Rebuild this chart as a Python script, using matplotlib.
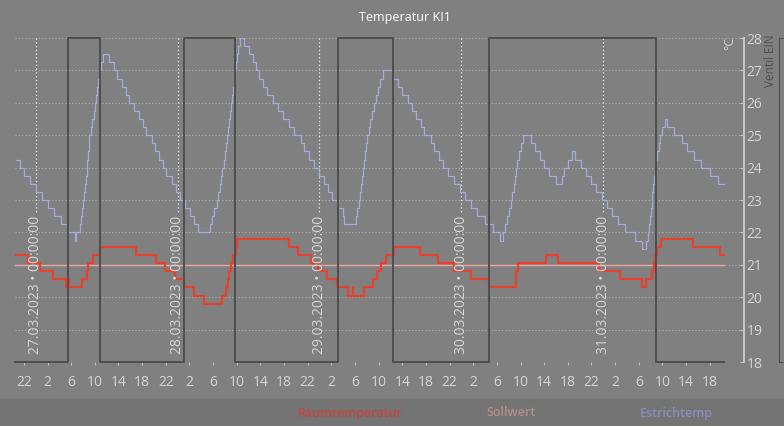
import numpy as np
import pandas as pd
import matplotlib
matplotlib.use('Agg')
import matplotlib.pyplot as plt
import matplotlib.dates as mdates
from matplotlib.ticker import FuncFormatter, FixedLocator
from matplotlib.patches import Rectangle

plt.rcParams['font.family'] = ['Open Sans', 'DejaVu Sans']

# hours relative to 27.03.2023 00:00
base = pd.Timestamp('2023-03-27 00:00')

estrich_h = [-3.4, -2.7, -2.0, -1.0, 0.1, 1.05, 2.1, 3.1, 4.3, 5.45, 6.6, 6.9,
             7.5, 7.7, 7.85, 8.0, 8.2, 8.35, 8.5, 8.6, 8.75, 8.85, 9.0, 9.1,
             9.35, 9.6, 9.85, 10.05, 10.2, 10.35, 10.5, 10.8, 11.1, 11.4,
             12.4, 13.2, 13.7, 14.6, 15.3, 15.75, 16.7, 17.45, 18.1, 18.7, 19.7, 20.2,
             20.8, 21.5, 22.1, 23.0, 23.8, 24.4, 25.3, 26.1, 26.85, 27.4,
             29.5, 29.9, 30.2, 30.6, 30.9, 31.1, 31.35, 31.55, 31.8, 32.0, 32.15, 32.3,
             32.5, 32.65, 32.8, 33.0, 33.2, 33.35, 33.5, 33.7, 33.85, 34.05, 34.3, 34.6,
             35.2, 36.0, 36.7, 37.3, 37.8, 38.4, 39.2, 40.1, 40.9, 41.8, 42.9, 43.75,
             44.8, 45.4, 46.3, 47.0, 47.9, 48.7, 49.5, 50.2, 51.1, 51.9, 52.2,
             54.1, 54.4, 54.65, 54.85, 55.0, 55.15, 55.3, 55.5, 55.7, 55.9, 56.1,
             56.35, 56.6, 56.9, 57.2, 57.5, 57.9, 58.3, 58.7,
             60.5, 61.2, 62.0, 62.9, 63.6, 64.3, 65.2, 65.7, 66.8, 67.4, 68.2, 68.9,
             69.8, 70.8, 71.8, 72.6, 73.6, 74.7, 76.0, 77.3, 78.5, 79.1,
             79.45, 79.75, 80.05, 80.35, 80.6, 80.85, 81.05, 81.2, 81.45, 81.75, 82.0, 82.35,
             83.8, 84.5, 85.3, 85.9, 86.8, 88.0, 89.0, 89.4, 90.0, 90.7, 91.2, 92.2,
             93.0, 94.0, 94.7, 95.8, 96.7, 97.4, 98.5, 99.7, 101.4, 102.5,
             103.3, 103.55, 103.75, 103.9, 104.05, 104.2, 104.3, 104.45, 104.6, 104.75,
             104.9, 105.1, 105.35, 105.6, 105.9, 106.5, 106.7,
             108.0, 109.3, 110.2, 111.3, 112.5, 114.1, 115.4, 116.4]
estrich_v = [24.25, 24.0, 23.75, 23.5, 23.25, 23.0, 22.75, 22.5, 22.25, 22.0, 21.75, 22.0,
             22.25, 22.5, 22.75, 23.0, 23.25, 23.5, 23.75, 24.0, 24.25, 24.5, 24.75, 25.0,
             25.25, 25.5, 25.75, 26.0, 26.25, 26.5, 26.75, 27.0, 27.25, 27.5,
             27.25, 27.0, 26.75, 26.5, 26.25, 26.0, 25.75, 25.5, 25.25, 25.0, 24.75, 24.5,
             24.25, 24.0, 23.75, 23.5, 23.25, 23.0, 22.75, 22.5, 22.25, 22.0,
             22.25, 22.5, 22.75, 23.0, 23.25, 23.5, 23.75, 24.0, 24.25, 24.5, 24.75, 25.0,
             25.25, 25.5, 25.75, 26.0, 26.25, 26.5, 26.75, 27.0, 27.25, 27.5, 27.75, 28.0,
             27.75, 27.5, 27.25, 27.0, 26.75, 26.5, 26.25, 26.0, 25.75, 25.5, 25.25, 25.0,
             24.75, 24.5, 24.25, 24.0, 23.75, 23.5, 23.25, 23.0, 22.75, 22.5, 22.25,
             22.5, 22.75, 23.0, 23.25, 23.5, 23.75, 24.0, 24.25, 24.5, 24.75, 25.0,
             25.25, 25.5, 25.75, 26.0, 26.25, 26.5, 26.75, 27.0,
             26.75, 26.5, 26.25, 26.0, 25.75, 25.5, 25.25, 25.0, 24.75, 24.5, 24.25, 24.0,
             23.75, 23.5, 23.25, 23.0, 22.75, 22.5, 22.25, 22.0, 21.75, 22.0,
             22.25, 22.5, 22.75, 23.0, 23.25, 23.5, 23.75, 24.0, 24.25, 24.5, 24.75, 25.0,
             24.75, 24.5, 24.25, 24.0, 23.75, 23.5, 23.75, 24.0, 24.25, 24.5, 24.25, 24.0,
             23.75, 23.5, 23.25, 23.0, 22.75, 22.5, 22.25, 22.0, 21.75, 21.5,
             21.75, 22.0, 22.25, 22.5, 22.75, 23.0, 23.25, 23.5, 23.75, 24.0,
             24.25, 24.5, 24.75, 25.0, 25.25, 25.5, 25.25,
             25.0, 24.75, 24.5, 24.25, 24.0, 23.75, 23.5, 23.5]

raum_h = [-3.5, -1.3, 0.7, 2.9, 5.2, 5.35, 5.6, 7.9, 8.6, 8.8, 9.7, 10.8, 16.9, 20.3,
          21.8, 23.5, 25.0, 26.7, 28.4, 31.5, 32.2, 32.6, 32.75, 33.1, 33.3, 33.8, 34.0,
          42.8, 44.3, 46.5, 47.8, 49.3, 50.9, 52.8, 53.6, 53.7, 55.6, 57.1, 57.8, 58.4,
          59.2, 60.6, 65.0, 68.1, 70.8, 73.6, 76.6, 81.2, 81.3, 81.6, 86.3, 88.4, 95.3,
          98.8, 102.5, 103.2, 104.3, 104.6, 104.8, 105.1, 105.7, 111.1, 115.8, 116.4]
raum_v = [21.3, 21.05, 20.8, 20.55, 20.3, 20.55, 20.3, 20.55, 20.8, 21.05, 21.3, 21.55, 21.3, 21.05,
          20.8, 20.55, 20.3, 20.05, 19.8, 20.05, 20.3, 20.55, 20.8, 21.05, 21.3, 21.55, 21.8,
          21.55, 21.3, 21.05, 20.8, 20.55, 20.3, 20.05, 20.3, 20.05, 20.3, 20.55, 20.8, 21.05,
          21.3, 21.55, 21.3, 21.05, 20.8, 20.55, 20.3, 20.55, 20.8, 21.05, 21.3, 21.05, 20.8,
          20.55, 20.3, 20.55, 20.8, 21.05, 21.3, 21.55, 21.8, 21.55, 21.3, 21.3]

soll_h = [-3.5, 116.4]
soll_v = [21.0, 21.0]

ventil_h = [-3.5, 5.45, 10.9, 25.05, 33.7, 51.1, 60.5, 76.6, 104.95, 116.4]
ventil_v = [0, 1, 0, 1, 0, 1, 0, 1, 0, 0]

day_h = [0, 24, 48, 72, 96]
day_labels = ['27.03.2023', '28.03.2023', '29.03.2023', '30.03.2023', '31.03.2023']

tick_h = list(range(-2, 115, 4))

legend_labels = ['Raumtemperatur', 'Sollwert', 'Estrichtemp']
legend_colors = ['#c4463e', '#b48c8c', '#8c8cbc']
legend_x = [350, 511, 676]


def to_time(hours):
    return base + pd.to_timedelta(np.asarray(hours, dtype=float), unit='h')


W, H = 784, 426
fig = plt.figure(figsize=(W / 100, H / 100), dpi=100, facecolor='#808080')
fig.patches.append(Rectangle((0, 0), 1, 27 / H, transform=fig.transFigure,
                             color='#747474', zorder=-1))

ax = fig.add_axes([15 / W, 1 - 362 / H, 729 / W, 324 / H])
ax.set_facecolor('none')

ax.plot(to_time(soll_h), soll_v, color='#eca49c', lw=1.0, zorder=3)
ax.plot(to_time(estrich_h), estrich_v, color='#a6aadc', lw=0.9,
        drawstyle='steps-post', zorder=4)
ax.plot(to_time(raum_h), raum_v, color='#e6412e', lw=1.6,
        drawstyle='steps-post', zorder=5)

for h, d in zip(day_h, day_labels):
    t = to_time([h, h])
    ax.plot(t, [28, 22.6], color='#eeeeee', lw=0.9, ls=(0, (1, 2)), zorder=2)
    ax.text(t[0], 18.25, d + ' \u2022 00:00:00', rotation=90, ha='center', va='bottom',
            color='#d6d6d6', fontsize=10, zorder=6)

ax.set_xlim(to_time([-3.5])[0], to_time([119.8])[0])
ax.set_ylim(18, 28)
ax.grid(axis='y', color='#b2b2b2', lw=0.8, ls=(0, (1, 2)))
ax.xaxis.set_major_locator(FixedLocator(mdates.date2num(to_time(tick_h))))
ax.xaxis.set_major_formatter(FuncFormatter(lambda x, pos: str(mdates.num2date(x).hour)))
ax.tick_params(axis='x', direction='out', length=2.5, width=0.8, color='#c0c0c0',
               labelcolor='#d4d4d4', labelsize=10, pad=7)
for s in ['top', 'left', 'bottom']:
    ax.spines[s].set_visible(False)

ax3 = ax.twinx()
ax3.set_ylim(0, 1)
ax3.plot(to_time(ventil_h), ventil_v, color='#4e4e4e', lw=1.4,
         drawstyle='steps-post', clip_on=False)
ax3.spines['right'].set_position(('axes', (779 - 15) / 729))
for s in ['top', 'left', 'bottom']:
    ax3.spines[s].set_visible(False)
ax3.spines['right'].set_color('#505050')
ax3.set_yticks([0, 1])
ax3.tick_params(axis='y', direction='out', length=3, color='#505050',
                labelcolor='#505050', labelsize=10, pad=1)

# temperature scale on the right side
ax.set_yticks(range(18, 29))
ax.yaxis.tick_right()
ax.yaxis.set_label_position('right')
ax.tick_params(axis='y', left=False, labelleft=False, right=True, labelright=True,
               direction='in', length=3, width=0.8, color='#c8c8c8',
               labelcolor='#d4d4d4', labelsize=10, pad=2)
ax.spines['right'].set_visible(True)
ax.spines['right'].set_color('#c4c4c4')
ax.spines['right'].set_linewidth(1.5)

fig.text(405 / W, 1 - 18 / H, 'Temperatur KI1', ha='center', va='center',
         color='white', fontsize=9)
fig.text(730 / W, 1 - 43 / H, '\u00b0C', rotation=90, ha='center', va='center',
         color='#d4d4d4', fontsize=9)
fig.text(770 / W, 1 - 61 / H, 'Ventil EIN', rotation=90, ha='center', va='center',
         color='#505050', fontsize=8.5)
for lab, c, x in zip(legend_labels, legend_colors, legend_x):
    fig.text(x / W, 1 - 413 / H, lab, ha='center', va='center', color=c,
             fontsize=9, fontweight='semibold')

fig.savefig('out.png', dpi=100, facecolor=fig.get_facecolor())
